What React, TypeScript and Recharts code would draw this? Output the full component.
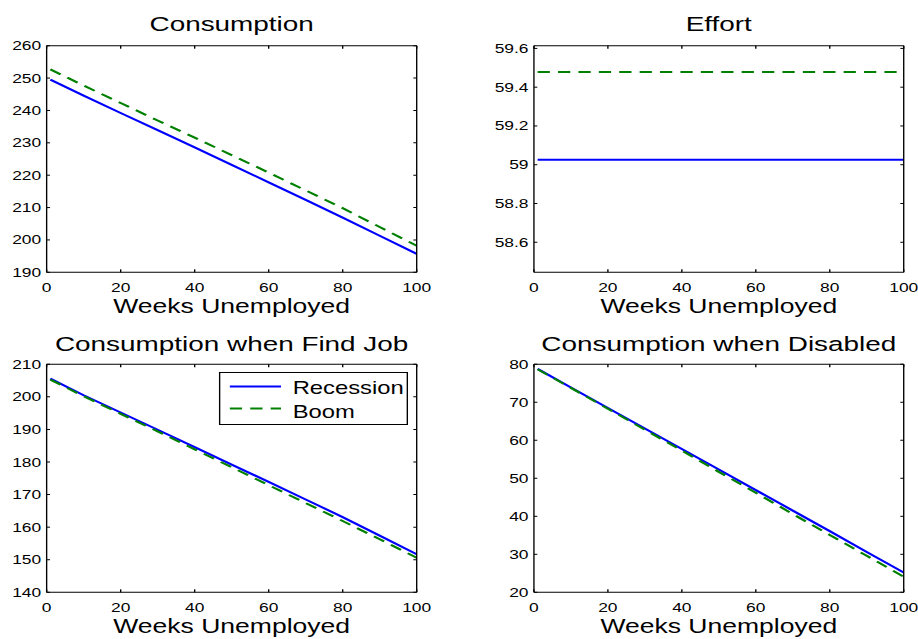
import React from "react";
import { LineChart, Line, XAxis, YAxis, Legend } from "recharts";

const weeks = [1, 10, 20, 30, 40, 50, 60, 70, 80, 90, 100];
const xTicks = [0, 20, 40, 60, 80, 100];

const consRecession = [249.5, 244.6, 239.2, 233.9, 228.6, 223.2, 217.8, 212.4, 206.9, 201.3, 195.7];
const consBoom = [252.7, 247.7, 242.3, 236.9, 231.6, 226.2, 220.8, 215.3, 209.8, 204.0, 198.2];
const consTicks = [190, 200, 210, 220, 230, 240, 250, 260];

const effortRecession = [59.026, 59.026, 59.026, 59.026, 59.026, 59.026, 59.026, 59.026, 59.026, 59.026, 59.026];
const effortBoom = [59.478, 59.478, 59.478, 59.478, 59.478, 59.478, 59.478, 59.478, 59.478, 59.478, 59.478];
const effortTicks = [58.6, 58.8, 59, 59.2, 59.4, 59.6];

const jobRecession = [205.6, 200.5, 195.2, 189.9, 184.6, 179.2, 173.9, 168.5, 163.1, 157.4, 151.7];
const jobBoom = [205.3, 200.2, 194.8, 189.4, 183.9, 178.4, 172.9, 167.4, 161.9, 156.3, 150.6];
const jobTicks = [140, 150, 160, 170, 180, 190, 200, 210];

const disRecession = [78.8, 73.9, 68.5, 63.1, 57.7, 52.3, 46.9, 41.5, 36.1, 30.6, 25.2];
const disBoom = [78.7, 73.8, 68.3, 62.8, 57.3, 51.7, 46.2, 40.6, 35.1, 29.6, 24.1];
const disTicks = [20, 30, 40, 50, 60, 70, 80];

// the source figure is stretched horizontally, so everything is drawn narrower and scaled
const SX = 1.36;
const FONT = "'Liberation Sans', Arial, Helvetica, sans-serif";

const BLUE = "#0000ff";
const GREEN = "#008000";
const DASH = "9 6";
const ORDER = ["Recession", "Boom"];

function fmt(v: number) {
    return String(+v.toFixed(1));
}

// ticks without labels (only the inward tick marks are wanted)
function emptyTick() {
    return <g />;
}

function LegendBox(props: any) {
    const payload = [...(props.payload || [])].sort(
        (a: any, b: any) => ORDER.indexOf(a.value) - ORDER.indexOf(b.value)
    );
    return (
        <div
            style={{
                width: 139.2,
                height: 52.7,
                border: "1.3px solid #000",
                boxSizing: "border-box",
                background: "#fff",
            }}
        >
            <svg width={137} height={50} style={{ display: "block" }}>
                {payload.map((e: any, i: number) => (
                    <g key={e.value}>
                        <line
                            x1={7}
                            x2={44.6}
                            y1={13.4 + i * 22}
                            y2={13.4 + i * 22}
                            stroke={e.color}
                            strokeWidth={2}
                            strokeDasharray={e.payload?.strokeDasharray}
                        />
                        <text x={53.2} y={21 + i * 24} fontSize={17.5} fill="#000" fontFamily={FONT}>
                            {e.value}
                        </text>
                    </g>
                ))}
            </svg>
        </div>
    );
}

interface PanelProps {
    left: number;
    top: number;
    width: number;
    height: number;
    plotLeft: number;
    plotRight: number;
    plotTop: number;
    plotBottom: number;
    title: string;
    titleTop: number;
    labelOffset: number;
    recession: number[];
    boom: number[];
    yDomain: [number, number];
    yTicks: number[];
    legend?: boolean;
}

function Panel({
    left,
    top,
    width,
    height,
    plotLeft,
    plotRight,
    plotTop,
    plotBottom,
    title,
    titleTop,
    labelOffset,
    recession,
    boom,
    yDomain,
    yTicks,
    legend,
}: PanelProps) {
    const data = weeks.map((w, i) => ({ week: w, recession: recession[i], boom: boom[i] }));
    return (
        <div style={{ position: "absolute", left, top, width, height }}>
            <div
                style={{
                    position: "absolute",
                    left: plotLeft,
                    width: plotRight - plotLeft,
                    top: titleTop,
                    fontSize: 20.5,
                    lineHeight: "20.5px",
                    textAlign: "center",
                    whiteSpace: "nowrap",
                    color: "#000",
                    zIndex: 2,
                }}
            >
                {title}
            </div>
            <LineChart
                width={width}
                height={height}
                data={data}
                margin={{ top: plotTop, right: width - plotRight, bottom: 0, left: 0 }}
            >
                <XAxis
                    dataKey="week"
                    type="number"
                    domain={[0, 100]}
                    ticks={xTicks}
                    allowDataOverflow
                    interval={0}
                    height={height - plotBottom}
                    tickSize={0}
                    tickMargin={10.4}
                    tickLine={false}
                    stroke="#000"
                    tick={{ fill: "#000", fontSize: 12.8 }}
                    label={{
                        value: "Weeks Unemployed",
                        position: "insideBottom",
                        offset: labelOffset,
                        fill: "#000",
                        fontSize: 19.5,
                    }}
                />
                <XAxis
                    xAxisId="bm"
                    dataKey="week"
                    type="number"
                    domain={[0, 100]}
                    ticks={xTicks}
                    allowDataOverflow
                    interval={0}
                    orientation="bottom"
                    mirror
                    height={1}
                    tick={emptyTick}
                    tickSize={3}
                    axisLine={false}
                    stroke="#000"
                />
                <XAxis
                    xAxisId="t"
                    dataKey="week"
                    type="number"
                    domain={[0, 100]}
                    ticks={xTicks}
                    allowDataOverflow
                    interval={0}
                    orientation="top"
                    mirror
                    height={1}
                    tick={emptyTick}
                    tickSize={3}
                    stroke="#000"
                />
                <YAxis
                    type="number"
                    domain={yDomain}
                    ticks={yTicks}
                    allowDataOverflow
                    interval={0}
                    width={plotLeft}
                    tickSize={0}
                    tickMargin={4}
                    tickLine={false}
                    stroke="#000"
                    tick={{ fill: "#000", fontSize: 12.8 }}
                    tickFormatter={fmt}
                />
                <YAxis
                    yAxisId="lm"
                    type="number"
                    domain={yDomain}
                    ticks={yTicks}
                    allowDataOverflow
                    interval={0}
                    mirror
                    width={1}
                    tick={emptyTick}
                    tickSize={2.5}
                    axisLine={false}
                    stroke="#000"
                />
                <YAxis
                    yAxisId="r"
                    type="number"
                    orientation="right"
                    domain={yDomain}
                    ticks={yTicks}
                    allowDataOverflow
                    interval={0}
                    mirror
                    width={1}
                    tick={emptyTick}
                    tickSize={2.5}
                    stroke="#000"
                />
                {legend && (
                    <Legend
                        layout="horizontal"
                        align="center"
                        verticalAlign="middle"
                        content={LegendBox}
                        wrapperStyle={{ left: 161, top: 52.3, width: 139.2, height: 52.7, bottom: "auto", right: "auto" }}
                    />
                )}
                <Line
                    type="linear"
                    dataKey="recession"
                    name="Recession"
                    stroke={BLUE}
                    strokeWidth={2}
                    dot={false}
                    isAnimationActive={false}
                />
                <Line
                    type="linear"
                    dataKey="boom"
                    name="Boom"
                    stroke={GREEN}
                    strokeWidth={2}
                    strokeDasharray={DASH}
                    dot={false}
                    isAnimationActive={false}
                />
            </LineChart>
        </div>
    );
}

export default function App() {
    return (
        <div
            style={{
                position: "absolute",
                left: 0,
                top: 0,
                width: 918,
                height: 639,
                overflow: "hidden",
                background: "#fff",
                fontFamily: FONT,
            }}
        >
            <div
                style={{
                    position: "relative",
                    width: 680,
                    height: 639,
                    transform: `scaleX(${SX})`,
                    transformOrigin: "0 0",
                }}
            >
                <Panel
                    left={0}
                    top={0}
                    width={338}
                    height={320}
                    plotLeft={34.3}
                    plotRight={306.4}
                    plotTop={45.7}
                    plotBottom={272.3}
                    title="Consumption"
                    titleTop={13.6}
                    labelOffset={7}
                    recession={consRecession}
                    boom={consBoom}
                    yDomain={[190, 260]}
                    yTicks={consTicks}
                />
                <Panel
                    left={338}
                    top={0}
                    width={342}
                    height={320}
                    plotLeft={54.6}
                    plotRight={326.5}
                    plotTop={45.7}
                    plotBottom={272.3}
                    title="Effort"
                    titleTop={13.6}
                    labelOffset={7}
                    recession={effortRecession}
                    boom={effortBoom}
                    yDomain={[58.445, 59.614]}
                    yTicks={effortTicks}
                />
                <Panel
                    left={0}
                    top={320}
                    width={338}
                    height={319}
                    plotLeft={34.3}
                    plotRight={306.4}
                    plotTop={44.3}
                    plotBottom={272.3}
                    title="Consumption when Find Job"
                    titleTop={14.1}
                    labelOffset={5.7}
                    recession={jobRecession}
                    boom={jobBoom}
                    yDomain={[140, 210]}
                    yTicks={jobTicks}
                    legend
                />
                <Panel
                    left={338}
                    top={320}
                    width={342}
                    height={319}
                    plotLeft={54.6}
                    plotRight={326.5}
                    plotTop={44.3}
                    plotBottom={272.3}
                    title="Consumption when Disabled"
                    titleTop={14.1}
                    labelOffset={5.7}
                    recession={disRecession}
                    boom={disBoom}
                    yDomain={[20, 80]}
                    yTicks={disTicks}
                />
            </div>
        </div>
    );
}
